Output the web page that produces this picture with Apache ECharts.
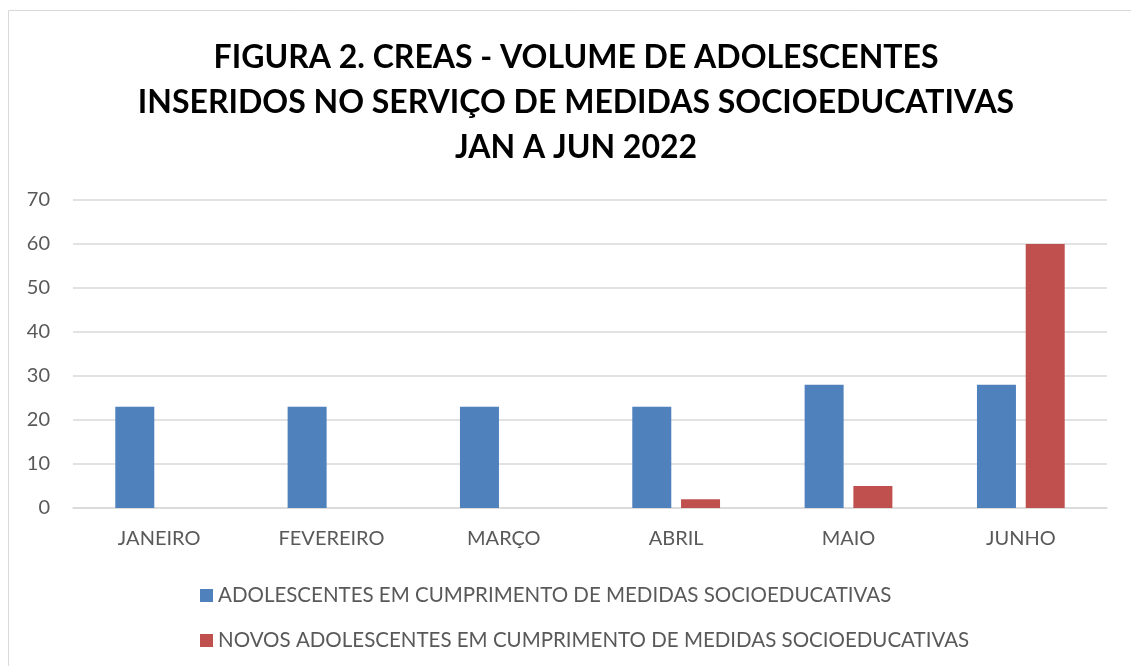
<!DOCTYPE html>
<html>
<head>
<meta charset="utf-8">
<script src="https://cdn.jsdelivr.net/npm/echarts@6/dist/echarts.min.js"></script>
<style>
html,body{margin:0;padding:0;background:#fff}
#chart{width:1131px;height:666px}
</style>
</head>
<body>
<div id="chart"></div>
<script>
var meses = ['JANEIRO', 'FEVEREIRO', 'MARÇO', 'ABRIL', 'MAIO', 'JUNHO'];
var cumprimento = [23, 23, 23, 23, 28, 28];
var novos = [0, 0, 0, 2, 5, 60];
var nomeSerie1 = 'ADOLESCENTES EM CUMPRIMENTO DE MEDIDAS SOCIOEDUCATIVAS';
var nomeSerie2 = 'NOVOS ADOLESCENTES EM CUMPRIMENTO DE MEDIDAS SOCIOEDUCATIVAS';

var myChart = echarts.init(document.getElementById('chart'));
var fonte = 'Lato';
option = {
	backgroundColor: '#fff',
	graphic: [{
		type: 'rect',
		shape: { x: 8.5, y: 10.5, width: 1200, height: 700 },
		style: { fill: 'none', stroke: '#d9d9d9', lineWidth: 1 },
		silent: true
	}],
	title: {
		text: 'FIGURA 2. CREAS - VOLUME DE ADOLESCENTES\nINSERIDOS NO SERVIÇO DE MEDIDAS SOCIOEDUCATIVAS\nJAN A JUN 2022',
		left: 571,
		textAlign: 'center',
		top: 30,
		textStyle: {
			fontFamily: fonte,
			fontWeight: 'bold',
			fontSize: 32,
			lineHeight: 45,
			color: '#000'
		}
	},
	grid: {
		left: 73,
		right: 24,
		top: 200,
		bottom: 158
	},
	legend: {
		orient: 'vertical',
		left: 195,
		top: 580,
		itemWidth: 13,
		itemHeight: 13,
		itemGap: 24,
		icon: 'rect',
		textStyle: {
			fontFamily: fonte,
			fontSize: 20.5,
			color: '#595959'
		},
		data: [nomeSerie1, nomeSerie2]
	},
	xAxis: [{
		type: 'category',
		data: meses,
		axisLine: { show: true, lineStyle: { color: '#d9d9d9', width: 1.5 } },
		axisTick: { show: false },
		axisLabel: {
			margin: 21,
			fontFamily: fonte,
			fontSize: 20,
			color: '#595959'
		}
	}],
	yAxis: [{
		type: 'value',
		min: 0,
		max: 70,
		interval: 10,
		axisLine: { show: false },
		axisTick: { show: false },
		axisLabel: {
			margin: 23,
			fontFamily: fonte,
			fontSize: 20,
			color: '#595959'
		},
		splitLine: {
			lineStyle: { color: '#d9d9d9', width: 1.5 }
		}
	}],
	series: [{
		name: nomeSerie1,
		type: 'bar',
		barWidth: 39,
		barGap: '25%',
		itemStyle: { color: '#4f81bd' },
		data: cumprimento
	}, {
		name: nomeSerie2,
		type: 'bar',
		barWidth: 39,
		barGap: '25%',
		itemStyle: { color: '#c0504d' },
		data: novos
	}]
};
myChart.setOption(option);
</script>
</body>
</html>
